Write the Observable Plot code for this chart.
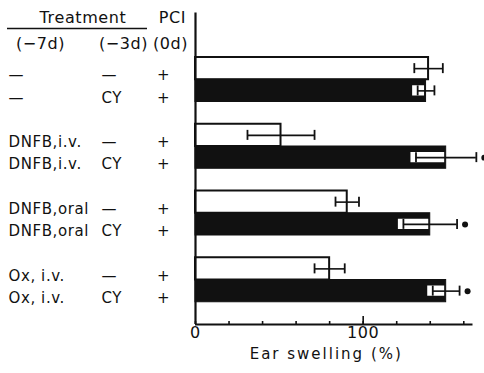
<!DOCTYPE html>
<html><head><meta charset="utf-8">
<script src="https://cdn.jsdelivr.net/npm/d3@7"></script>
<script src="https://cdn.jsdelivr.net/npm/@observablehq/plot@0.6"></script>
<style>
body{margin:0;background:#fff}
svg{font-family:"DejaVu Sans",sans-serif}
svg text{letter-spacing:0.6px}
svg .xlabel text{letter-spacing:2px}
</style>
</head><body><div id="chart"></div>
<script>
// Table labels (one entry per bar)
const treat7 = ["—","—","DNFB,i.v.","DNFB,i.v.","DNFB,oral","DNFB,oral","Ox, i.v.","Ox, i.v."];
const treat3 = ["—","CY","—","CY","—","CY","—","CY"];
const pci    = ["+","+","+","+","+","+","+","+"];
// Ear swelling (%) and error
const swelling = [139, 137.5, 51, 149.5, 90.5, 140, 80, 149.5];
const sem      = [8.5, 5, 20, 18, 7, 16, 9, 8];
const significant = [false,false,false,true,false,true,false,true];
// Axis
const xTicks  = [0,20,40,60,80,100,120,140,160];
const xMajor  = [100];
const xLabels = [0,100];
const xTitle  = "Ear swelling (%)";
const headTop = ["Treatment","PCI"];
const headSub = ["(−7d)","(−3d)","(0d)"];

const rows = swelling.map((v,i)=>({
  v, lo: v - sem[i], hi: v + sem[i], cy: i % 2 === 1, sig: significant[i],
  slot: 2 + 3*Math.floor(i/2) + (i % 2),
  t7: treat7[i], t3: treat3[i], p: pci[i]
}));
const white = rows.filter(d=>!d.cy), black = rows.filter(d=>d.cy);

const W = 484, H = 373, mL = 195, mR = 11.5, mT = 12.5, mB = 49;
const frameH = H - mT - mB;
const fs = {fontSize: 15, fill: "#111"};
const hs = {fontSize: 16, fill: "#111", frameAnchor: "top-left", textAnchor: "middle", lineAnchor: "middle"};

const underline = () => d3.create("svg:line")
    .attr("x1", 7).attr("x2", 147).attr("y1", 28.5).attr("y2", 28.5)
    .attr("stroke", "#111").attr("stroke-width", 1.5).node();

const chart = Plot.plot({
  width: W, height: H,
  marginLeft: mL, marginRight: mR, marginTop: mT, marginBottom: mB,
  x: {domain: [0, 165.5], axis: null},
  y: {domain: [0, 14], range: [mT, H - mB], axis: null},
  style: {fontFamily: "DejaVu Sans", background: "#fff"},
  marks: [
    Plot.rectX(white, {x1: 0, x2: "v", y1: "slot", y2: d=>d.slot+1, fill: "white", stroke: "#111", strokeWidth: 2}),
    Plot.rectX(black, {x1: 0, x2: "v", y1: "slot", y2: d=>d.slot+1, fill: "#111", stroke: "#111", strokeWidth: 1}),
    Plot.rectX(black, {x1: d=>d.lo - 3, x2: "v", y1: "slot", y2: d=>d.slot+1, insetTop: 6, insetBottom: 6, insetRight: 1.5, fill: "white"}),
    Plot.ruleY(rows, {y: d=>d.slot+0.5, x1: "lo", x2: "hi", stroke: "#111", strokeWidth: 1.6}),
    Plot.ruleX(rows, {x: "lo", y1: d=>d.slot+0.5, y2: d=>d.slot+0.5, insetTop: -5, insetBottom: -5, stroke: "#111", strokeWidth: 1.8}),
    Plot.ruleX(rows, {x: "hi", y1: d=>d.slot+0.5, y2: d=>d.slot+0.5, insetTop: -5, insetBottom: -5, stroke: "#111", strokeWidth: 1.8}),
    Plot.dot(rows.filter(d=>d.sig), {x: "hi", y: d=>d.slot+0.5, dx: 8, r: 3, fill: "#111", stroke: "none"}),
    Plot.ruleX([0], {stroke: "#111", strokeWidth: 2.2}),
    Plot.ruleY([14], {stroke: "#111", strokeWidth: 2.2}),
    Plot.tickX(xTicks, {x: d=>d, insetTop: frameH - 3, stroke: "#111", strokeWidth: 1.6}),
    Plot.tickX(xMajor, {x: d=>d, insetTop: frameH - 8, stroke: "#111", strokeWidth: 1.6}),
    Plot.text(xLabels, {x: d=>d, frameAnchor: "bottom", dy: 13, fontSize: 16, fill: "#111"}),
    Plot.text([xTitle], {text: d=>d, frameAnchor: "bottom", dx: -8, dy: 34, fontSize: 15, fill: "#111", className: "xlabel"}),
    // left table
    Plot.text(rows, {y: d=>d.slot+0.5, text: "t7", frameAnchor: "left", dx: -187, dy: 7, textAnchor: "start", ...fs}),
    Plot.text(rows, {y: d=>d.slot+0.5, text: "t3", frameAnchor: "left", dx: -94, dy: 7, textAnchor: "start", ...fs}),
    Plot.text(rows, {y: d=>d.slot+0.5, text: "p", frameAnchor: "left", dx: -32, dy: 7, textAnchor: "middle", ...fs}),
    Plot.text([headTop[0]], {text: d=>d, dx: 82.5 - mL, dy: 4.5, ...hs}),
    Plot.text([headTop[1]], {text: d=>d, dx: 172 - mL, dy: 4.5, ...hs}),
    Plot.text([headSub[0]], {text: d=>d, dx: 40 - mL, dy: 31, ...hs}),
    Plot.text([headSub[1]], {text: d=>d, dx: 123 - mL, dy: 31, ...hs}),
    Plot.text([headSub[2]], {text: d=>d, dx: 170 - mL, dy: 31, ...hs}),
    underline
  ]
});
document.getElementById("chart").append(chart);
</script>
</body></html>
